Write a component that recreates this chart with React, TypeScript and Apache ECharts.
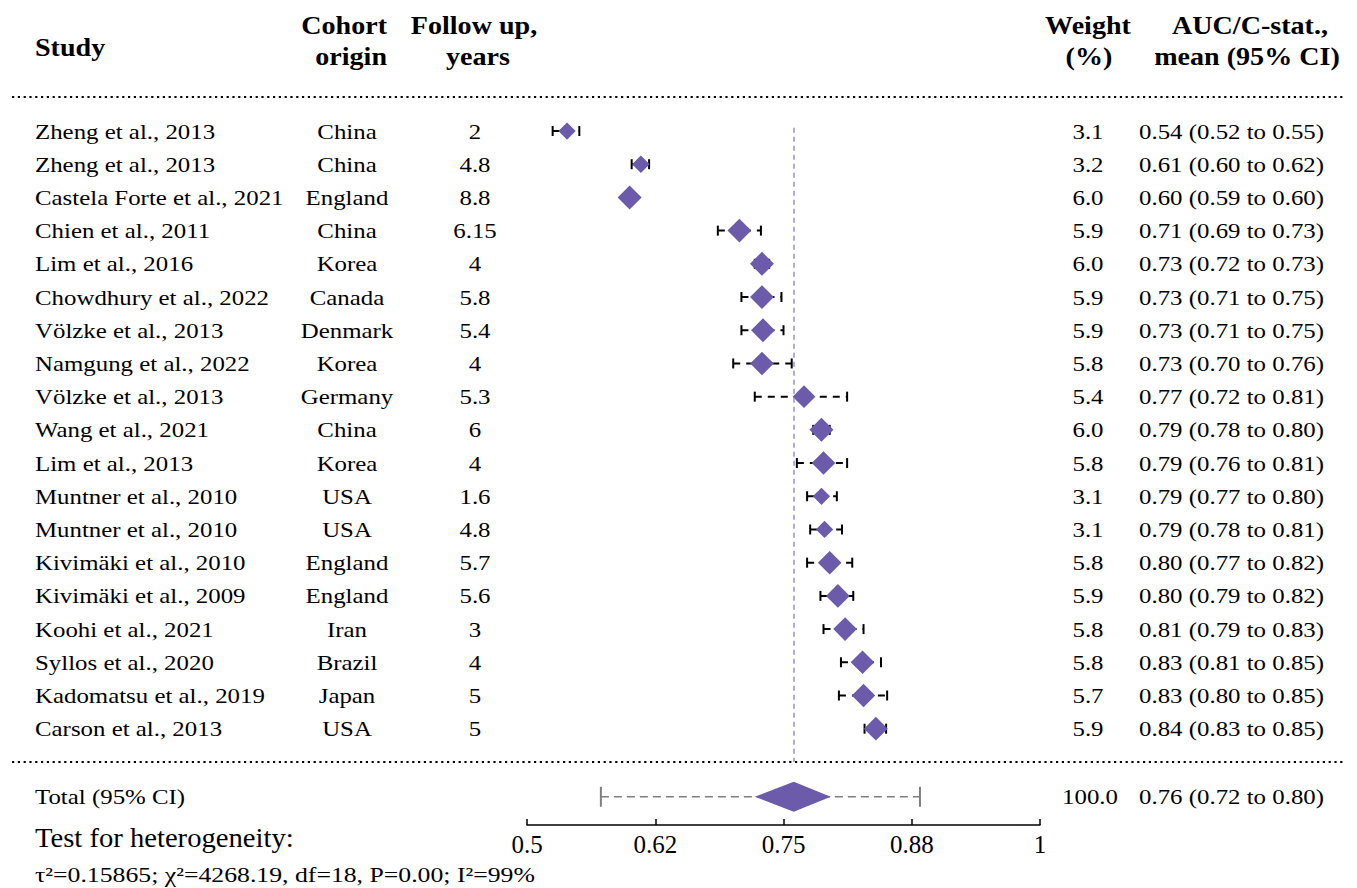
import React, { useEffect, useRef } from "react";
import * as echarts from "echarts";

// ---------- data ----------
const studies = [
  "Zheng et al., 2013", "Zheng et al., 2013", "Castela Forte et al., 2021", "Chien et al., 2011",
  "Lim et al., 2016", "Chowdhury et al., 2022", "Völzke et al., 2013", "Namgung et al., 2022",
  "Völzke et al., 2013", "Wang et al., 2021", "Lim et al., 2013", "Muntner et al., 2010",
  "Muntner et al., 2010", "Kivimäki et al., 2010", "Kivimäki et al., 2009", "Koohi et al., 2021",
  "Syllos et al., 2020", "Kadomatsu et al., 2019", "Carson et al., 2013",
];
const cohorts = [
  "China", "China", "England", "China", "Korea", "Canada", "Denmark", "Korea", "Germany", "China",
  "Korea", "USA", "USA", "England", "England", "Iran", "Brazil", "Japan", "USA",
];
const followUp = ["2", "4.8", "8.8", "6.15", "4", "5.8", "5.4", "4", "5.3", "6", "4", "1.6", "4.8", "5.7", "5.6", "3", "4", "5", "5"];
const weights = [3.1, 3.2, 6.0, 5.9, 6.0, 5.9, 5.9, 5.8, 5.4, 6.0, 5.8, 3.1, 3.1, 5.8, 5.9, 5.8, 5.8, 5.7, 5.9];
// printed AUC values
const aucMean = ["0.54", "0.61", "0.60", "0.71", "0.73", "0.73", "0.73", "0.73", "0.77", "0.79", "0.79", "0.79", "0.79", "0.80", "0.80", "0.81", "0.83", "0.83", "0.84"];
const aucLow = ["0.52", "0.60", "0.59", "0.69", "0.72", "0.71", "0.71", "0.70", "0.72", "0.78", "0.76", "0.77", "0.78", "0.77", "0.79", "0.79", "0.81", "0.80", "0.83"];
const aucHigh = ["0.55", "0.62", "0.60", "0.73", "0.73", "0.75", "0.75", "0.76", "0.81", "0.80", "0.81", "0.80", "0.81", "0.82", "0.82", "0.83", "0.85", "0.85", "0.85"];
// plotted (unrounded) estimates
const est = [0.539, 0.611, 0.600, 0.707, 0.729, 0.729, 0.730, 0.729, 0.770, 0.787, 0.789, 0.787, 0.790, 0.795, 0.803, 0.810, 0.827, 0.828, 0.840];
const ciLow = [0.525, 0.602, 0.595, 0.686, 0.722, 0.709, 0.709, 0.701, 0.722, 0.779, 0.763, 0.773, 0.776, 0.773, 0.786, 0.789, 0.806, 0.804, 0.829];
const ciHigh = [0.551, 0.619, 0.605, 0.728, 0.736, 0.748, 0.750, 0.758, 0.812, 0.795, 0.812, 0.802, 0.807, 0.817, 0.818, 0.828, 0.845, 0.851, 0.850];
// pooled
const totalLabel = "Total (95% CI)";
const totalWeight = "100.0";
const totalMean = 0.760;
const totalLow = 0.722;
const totalHigh = 0.796;
const predLow = 0.572;
const predHigh = 0.883;
const totalText = ["0.76", "0.72", "0.80"];
const heterogeneityTitle = "Test for heterogeneity:";
const heterogeneityStats = "τ²=0.15865; χ²=4268.19, df=18, P=0.00; I²=99%";
// axis
const tickValues = [0.5, 0.625, 0.75, 0.875, 1];
const tickLabels = ["0.5", "0.62", "0.75", "0.88", "1"];

const FONT = "'Liberation Serif', 'Times New Roman', serif";
const PURPLE = "#6B5BAA";
const SX = 1.13;
const FS = 22;
const TOTAL_ROW = 20.05;

export default function App() {
  const ref = useRef<HTMLDivElement>(null);
  useEffect(() => {
    if (!ref.current) return;
    const chart = echarts.init(ref.current, null, { renderer: "svg" });

    const rows = studies.map((_, i) => i);

    const txt = (text: string, x: number, y: number, align: string, extra: any = {}) => ({
      type: "text",
      x,
      y,
      scaleX: SX,
      style: {
        text,
        fontSize: FS,
        fontFamily: FONT,
        fill: "#000",
        align,
        verticalAlign: "middle",
        ...extra,
      },
    });

    const header = (text: string, x: number, y: number, align: string) => ({
      type: "text",
      x,
      y,
      scaleX: 1.08,
      style: {
        text,
        fontSize: 26,
        fontWeight: "bold",
        fontFamily: FONT,
        fill: "#000",
        align,
        verticalAlign: "middle",
      },
    });

    const option: any = {
      animation: false,
      backgroundColor: "#fff",
      grid: { left: 527, right: 317, top: 97.8, bottom: 63 },
      xAxis: {
        type: "value",
        position: "bottom",
        min: 0.5,
        max: 1,
        interval: 0.125,
        splitLine: { show: false },
        axisLine: { show: true, onZero: false, lineStyle: { color: "#000", width: 1.5 } },
        axisTick: { show: true, inside: true, length: 6, lineStyle: { color: "#000", width: 1.5 } },
        axisLabel: {
          fontSize: 25,
          fontFamily: FONT,
          color: "#000",
          margin: 7,
          formatter: (v: number) => {
            const i = tickValues.findIndex((t) => Math.abs(t - v) < 1e-6);
            return i >= 0 ? tickLabels[i] : "";
          },
        },
      },
      yAxis: {
        type: "value",
        inverse: true,
        min: -1,
        max: 20.9,
        show: false,
      },
      graphic: [
        header("Study", 35, 47, "left"),
        header("Cohort", 387, 25, "right"),
        header("origin", 387, 56, "right"),
        header("Follow up,", 474, 25, "center"),
        header("years", 478, 56, "center"),
        header("Weight", 1088, 25, "center"),
        header("(%)", 1089, 56, "center"),
        header("AUC/C-stat.,", 1250, 25, "center"),
        header("mean (95% CI)", 1247, 56, "center"),
        {
          type: "line",
          shape: { x1: 12, y1: 97, x2: 1345, y2: 97 },
          style: { stroke: "#000", lineWidth: 2, lineDash: [2.2, 3.6] },
        },
        {
          type: "line",
          shape: { x1: 12, y1: 762, x2: 1345, y2: 762 },
          style: { stroke: "#000", lineWidth: 2, lineDash: [2.2, 3.6] },
        },
        {
          type: "text",
          x: 35,
          y: 838,
          scaleX: 1.08,
          style: { text: heterogeneityTitle, fontSize: 26.5, fontFamily: FONT, fill: "#000", align: "left", verticalAlign: "middle" },
        },
        {
          type: "text",
          x: 35,
          y: 875,
          scaleX: 1.17,
          style: { text: heterogeneityStats, fontSize: FS, fontFamily: FONT, fill: "#000", align: "left", verticalAlign: "middle" },
        },
      ],
      series: [
        // study CI whiskers
        {
          type: "custom",
          clip: false,
          z: 2,
          encode: { x: [0, 1], y: 2 },
          data: rows.map((i) => [ciLow[i], ciHigh[i], i]),
          renderItem: (params: any, api: any) => {
            const a = api.coord([api.value(0), api.value(2)]);
            const b = api.coord([api.value(1), api.value(2)]);
            const h = 5;
            return {
              type: "group",
              children: [
                { type: "line", shape: { x1: a[0], y1: a[1], x2: b[0], y2: b[1] }, style: { stroke: "#000", lineWidth: 2, lineDash: [7, 6] } },
                { type: "line", shape: { x1: a[0], y1: a[1] - h, x2: a[0], y2: a[1] + h }, style: { stroke: "#000", lineWidth: 2 } },
                { type: "line", shape: { x1: b[0], y1: b[1] - h, x2: b[0], y2: b[1] + h }, style: { stroke: "#000", lineWidth: 2 } },
              ],
            };
          },
        },
        // point estimates
        {
          type: "scatter",
          z: 3,
          symbol: "diamond",
          symbolSize: (_: any, p: any) => 9.8 * Math.sqrt(weights[p.dataIndex]),
          itemStyle: { color: PURPLE, opacity: 1 },
          data: rows.map((i) => [est[i], i]),
          markLine: {
            silent: true,
            symbol: ["none", "none"],
            label: { show: false },
            lineStyle: { color: "#9C90CE", width: 1.5, type: [5, 4] },
            data: [[{ coord: [totalMean, -0.1] }, { coord: [totalMean, 19.0] }]],
          },
        },
        // pooled estimate
        {
          type: "custom",
          clip: false,
          z: 3,
          encode: { x: [0, 1, 2, 3, 4], y: 5 },
          data: [[predLow, totalLow, totalMean, totalHigh, predHigh, TOTAL_ROW]],
          renderItem: (params: any, api: any) => {
            const r = api.value(5);
            const pl = api.coord([api.value(0), r]);
            const lo = api.coord([api.value(1), r]);
            const m = api.coord([api.value(2), r]);
            const hi = api.coord([api.value(3), r]);
            const ph = api.coord([api.value(4), r]);
            const y = m[1];
            const gray = "#7F7F7F";
            return {
              type: "group",
              children: [
                { type: "line", shape: { x1: pl[0], y1: y, x2: ph[0], y2: y }, style: { stroke: gray, lineWidth: 1.5, lineDash: [8, 5] } },
                { type: "line", shape: { x1: pl[0], y1: y - 10, x2: pl[0], y2: y + 10 }, style: { stroke: gray, lineWidth: 2 } },
                { type: "line", shape: { x1: ph[0], y1: y - 10, x2: ph[0], y2: y + 10 }, style: { stroke: gray, lineWidth: 2 } },
                {
                  type: "polygon",
                  shape: { points: [[lo[0], y], [m[0], y - 15], [hi[0], y], [m[0], y + 15]] },
                  style: { fill: PURPLE },
                },
              ],
            };
          },
        },
        // text columns
        {
          type: "custom",
          clip: false,
          z: 4,
          silent: true,
          encode: { x: 0, y: 1 },
          data: [...rows.map((i) => [0.5, i]), [0.5, TOTAL_ROW]],
          renderItem: (params: any, api: any) => {
            const i = params.dataIndex;
            const y = api.coord([0.5, api.value(1)])[1];
            if (i >= studies.length) {
              return {
                type: "group",
                children: [
                  txt(totalLabel, 35, y, "left"),
                  txt(totalWeight, 1090, y, "center"),
                  txt(`${totalText[0]} (${totalText[1]} to ${totalText[2]})`, 1139, y, "left"),
                ],
              };
            }
            return {
              type: "group",
              children: [
                txt(studies[i], 35, y, "left"),
                txt(cohorts[i], 347, y, "center"),
                txt(followUp[i], 475, y, "center"),
                txt(weights[i].toFixed(1), 1088, y, "center"),
                txt(`${aucMean[i]} (${aucLow[i]} to ${aucHigh[i]})`, 1139, y, "left"),
              ],
            };
          },
        },
      ],
    };

    chart.setOption(option);
    return () => chart.dispose();
  }, []);

  return (
    <div
      ref={ref}
      style={{ position: "fixed", left: 0, top: 0, width: 1357, height: 888, background: "#fff" }}
    />
  );
}
